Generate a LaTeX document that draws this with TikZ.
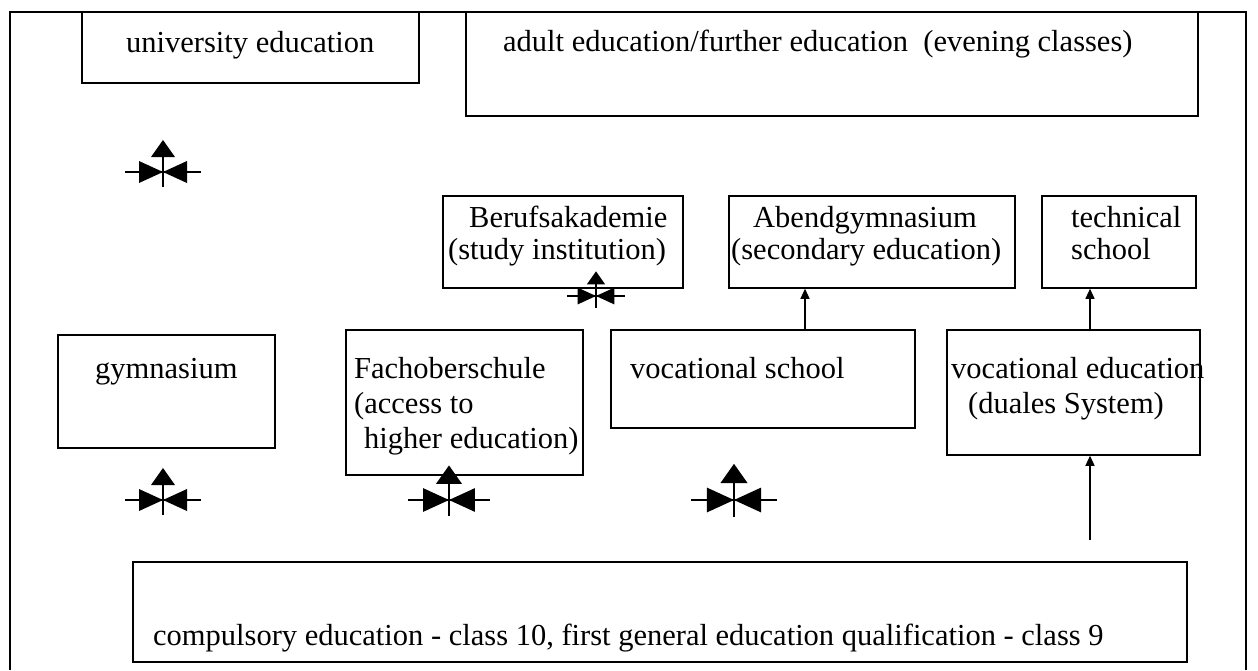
\documentclass[tikz,border=0pt]{standalone}
\usepackage{fontspec}
\setmainfont{Liberation Serif}
\usetikzlibrary{arrows.meta,calc,positioning}

\tikzset{
  box/.style={draw,line width=1.5pt,inner sep=0pt},
  txt/.style={anchor=base west,inner sep=0pt},
  up/.style={-{Triangle[length=10pt,width=9pt]},line width=1.2pt},
  crossing/.pic={
    \draw[line width=2.4pt] (-38,0) -- (38,0);
    \draw[line width=2.4pt] (0,15) -- (0,-16);
    \fill (-24,-11) -- (0,0) -- (-24,11) -- cycle;
    \fill (24,-11) -- (0,0) -- (24,11) -- cycle;
    \fill (-12,-15) -- (0,-32) -- (12,-15) -- cycle;
  }
}

\begin{document}
\begin{tikzpicture}[x=1pt,y=-1pt,font=\fontsize{30.5}{35}\selectfont]
  \useasboundingbox (0,0) rectangle (1258,670);
  % Outer frame, open at the bottom.
  \draw[line width=1.5pt] (10,670) -- (10,12) -- (1246,12) -- (1246,670);

  % Top row.
  \node[box,minimum width=337pt,minimum height=71pt] (univ) at (250.5,47.5) {};
  \node[txt] at (126,52) {university education};
  \node[box,minimum width=732pt,minimum height=104pt] (adult) at (832,64) {};
  \node[txt] at (503,51) {adult education/further education\ \ (evening classes)};

  % Second row.
  \node[box,minimum width=240pt,minimum height=92pt] (berufs) at (563,242) {};
  \node[txt] at (469,227) {Berufsakademie};
  \node[txt] at (448,259) {(study institution)};
  \node[box,minimum width=286pt,minimum height=92pt] (abend) at (872,242) {};
  \node[txt] at (753,227) {Abendgymnasium};
  \node[txt] at (731,259) {(secondary education)};
  \node[box,minimum width=154pt,minimum height=92pt] (tech) at (1119,242) {};
  \node[txt] at (1071,227) {technical};
  \node[txt] at (1071,259) {school};

  % Third row.
  \node[box,minimum width=217pt,minimum height=113pt] (gym) at (166.5,391.5) {};
  \node[txt] at (95,378) {gymnasium};
  \node[box,minimum width=237pt,minimum height=145pt] (fos) at (464.5,402.5) {};
  \node[txt] at (354,378) {Fachoberschule};
  \node[txt] at (354,413) {(access to};
  \node[txt] at (364,448) {higher education)};
  \node[box,minimum width=304pt,minimum height=98pt] (vocschool) at (763,379) {};
  \node[txt] at (630,378) {vocational school};
  \node[box,minimum width=253pt,minimum height=125pt] (vocedu) at (1073.5,392.5) {};
  \node[txt] at (951,378) {vocational education};
  \node[txt] at (968,413) {(duales System)};

  % Bottom row.
  \node[box,minimum width=1054pt,minimum height=100pt] (compulsory) at (660,612) {};
  \node[txt] at (153,645)
    {compulsory education - class 10, first general education qualification - class 9};

  % Arrows between the boxes.
  \draw[up] ([xshift=42pt]vocschool.north) -- ([xshift=42pt]vocschool.north |- abend.south);
  \draw[up] ([xshift=16.5pt]vocedu.north) -- ([xshift=16.5pt]vocedu.north |- tech.south);
  \coordinate (entry) at (1090,540);
  \draw[up] (entry) -- (entry |- vocedu.south);

  % Crossing symbols.
  \pic at (163,172) {crossing};
  \pic[scale=0.77] at (596,296) {crossing};
  \pic at (163,500) {crossing};
  \pic[scale=1.08] at (449,500) {crossing};
  \pic[scale=1.13] at (734,500) {crossing};
\end{tikzpicture}
\end{document}
